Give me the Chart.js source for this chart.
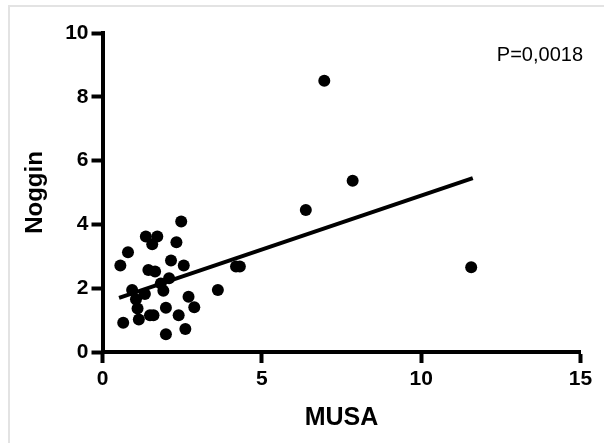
<!DOCTYPE html>
<html>
<head>
<meta charset="utf-8">
<script src="https://cdn.jsdelivr.net/npm/chart.js@4"></script>
<style>
    body { margin: 0; background: #fff; }
    #wrap { position: relative; width: 604px; height: 443px; }
    #marco { position: absolute; left: 8px; top: 5px; right: 0; bottom: 0;
             border-top: 2px solid #e3e3e3; border-left: 2px solid #e3e3e3; pointer-events: none; }
    canvas { position: absolute; left: 0; top: 0; }
</style>
</head>
<body>
<div id="wrap">
    <canvas id="grafica" width="604" height="443"></canvas>
    <div id="marco"></div>
</div>
<script>
// valores
const musa = [2.47, 1.36, 1.72, 1.56, 2.32, 0.80, 2.15, 0.56, 2.55, 1.44, 1.65, 2.09, 1.83,
    0.93, 1.33, 1.91, 1.05, 3.62, 2.70, 2.88, 1.10, 1.99, 1.49, 1.60, 2.39, 1.14, 0.65,
    2.60, 1.99, 4.19, 4.31, 6.96, 7.85, 6.38, 11.57];
const noggin = [4.09, 3.62, 3.62, 3.38, 3.44, 3.13, 2.87, 2.71, 2.71, 2.57, 2.52, 2.31, 2.15,
    1.94, 1.82, 1.92, 1.65, 1.94, 1.73, 1.40, 1.36, 1.39, 1.15, 1.15, 1.15, 1.02, 0.92,
    0.72, 0.56, 2.68, 2.68, 8.50, 5.37, 4.45, 2.66];
const ajusteX = [0.52, 11.62];
const ajusteY = [1.70, 5.45];
const ticksX = [0, 5, 10, 15];
const ticksY = [0, 2, 4, 6, 8, 10];
const textoP = 'P=0,0018';

const fuente = 'Liberation Sans, Arial, sans-serif';

const textoPlugin = {
    id: 'textoP',
    afterDraw(chart) {
        const ctx = chart.ctx;
        ctx.save();
        ctx.font = '20px ' + fuente;
        ctx.fillStyle = '#000';
        ctx.textAlign = 'right';
        ctx.textBaseline = 'middle';
        ctx.fillText(textoP, 583, 55);
        ctx.restore();
    }
};

const ejeComun = {
    border: { display: true, color: '#000', width: 4 },
    grid: { drawOnChartArea: false, drawTicks: true, tickLength: 11, tickWidth: 4, tickColor: '#000' },
};

new Chart(document.getElementById('grafica'), {
    type: 'scatter',
    data: {
        datasets: [{
            type: 'line',
            data: ajusteX.map((x, i) => ({ x, y: ajusteY[i] })),
            borderColor: '#000',
            borderWidth: 4,
            pointRadius: 0,
            fill: false,
        }, {
            data: musa.map((x, i) => ({ x, y: noggin[i] })),
            backgroundColor: '#000',
            borderWidth: 0,
            pointRadius: 6,
            pointHoverRadius: 6,
        }]
    },
    options: {
        responsive: false,
        animation: false,
        events: [],
        layout: { padding: { left: 17, right: 23.5, top: 33, bottom: 6 } },
        plugins: { legend: { display: false }, tooltip: { enabled: false } },
        scales: {
            x: {
                ...ejeComun,
                type: 'linear',
                min: 0, max: 15,
                afterBuildTicks: s => { s.ticks = ticksX.map(v => ({ value: v })); },
                afterFit: s => { s.height = 85; },
                ticks: { color: '#000', padding: 4, font: { family: fuente, size: 21, weight: 'bold' } },
                title: { display: true, text: 'MUSA', color: '#000',
                    font: { family: fuente, size: 25, weight: 'bold' } },
            },
            y: {
                ...ejeComun,
                type: 'linear',
                min: 0, max: 10,
                afterBuildTicks: s => { s.ticks = ticksY.map(v => ({ value: v })); },
                afterFit: s => { s.width = 85.5; },
                ticks: { color: '#000', padding: 3, font: { family: fuente, size: 21, weight: 'bold' } },
                title: { display: true, text: 'Noggin', color: '#000',
                    font: { family: fuente, size: 24, weight: 'bold' } },
            }
        }
    },
    plugins: [textoPlugin]
});
</script>
</body>
</html>
